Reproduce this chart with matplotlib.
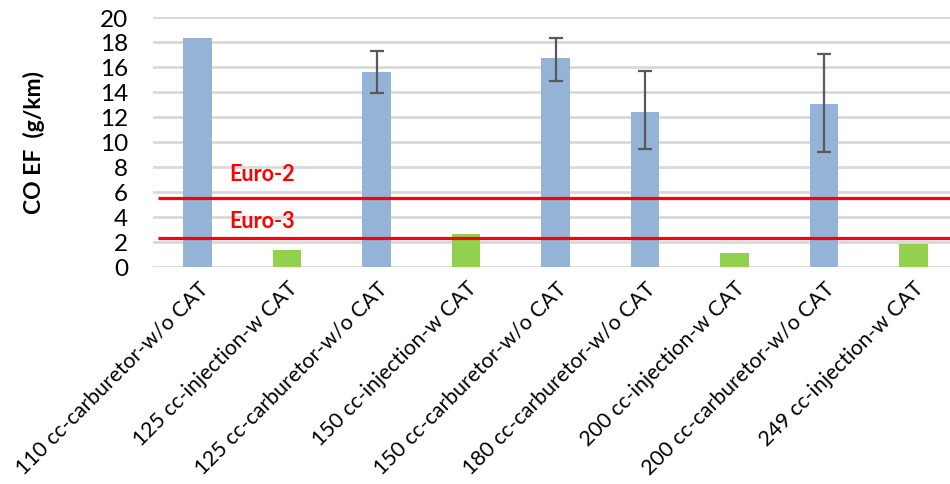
import matplotlib
matplotlib.use("Agg")
import matplotlib.pyplot as plt
import numpy as np

categories = [
    "110 cc-carburetor-w/o CAT",
    "125 cc-injection-w CAT",
    "125 cc-carburetor-w/o CAT",
    "150 cc-injection-w CAT",
    "150 cc-carburetor-w/o CAT",
    "180 cc-carburetor-w/o CAT",
    "200 cc-injection-w CAT",
    "200 cc-carburetor-w/o CAT",
    "249 cc-injection-w CAT",
]
co_ef = [18.3, 1.3, 15.6, 2.6, 16.7, 12.4, 1.1, 13.0, 1.8]
err_low = [None, None, 13.9, None, 14.9, 9.4, None, 9.2, None]
err_high = [None, None, 17.3, None, 18.3, 15.7, None, 17.0, None]
has_cat = [False, True, False, True, False, False, True, False, True]
euro_names = ["Euro-2", "Euro-3"]
euro_limits = [5.5, 2.3]
y_ticks = [0, 2, 4, 6, 8, 10, 12, 14, 16, 18, 20]

plt.rcParams['font.family'] = ['Lato', 'DejaVu Sans']

W, H = 950, 485
fig = plt.figure(figsize=(W / 100, H / 100), dpi=100)
ax = fig.add_axes([153 / W, 1 - 267.5 / H, (950 - 153) / W, (267.5 - 18) / H])

x = np.arange(len(categories))
colors = ["#92D050" if c else "#95B3D7" for c in has_cat]
ax.bar(x, co_ef, width=0.32, color=colors, zorder=2)

for i in range(len(categories)):
    if err_low[i] is not None:
        lo = co_ef[i] - err_low[i]
        hi = err_high[i] - co_ef[i]
        ax.errorbar(x[i], co_ef[i], yerr=[[lo], [hi]], fmt='none',
                    ecolor="#595959", elinewidth=1.6, capsize=5, capthick=1.6, zorder=3)

label_offsets = {"Euro-2": 1.95, "Euro-3": 1.4}
for name, val in zip(euro_names, euro_limits):
    ax.plot([-0.44, 8.41], [val, val], color="#FF0000", lw=2.3, zorder=4, solid_capstyle='butt')
    ax.text(0.35, val + label_offsets[name], name, color="#FF0000",
            fontsize=15.5, fontweight='bold', va='center', ha='left', zorder=5)

ax.set_xlim(-0.5, 8.41)
ax.set_ylim(0, 20)
ax.set_yticks(y_ticks)
ax.set_yticklabels([str(t) for t in y_ticks], fontsize=17.5)
ax.yaxis.grid(True, color="#D9D9D9", lw=2, zorder=0)
ax.set_axisbelow(True)
for s in ax.spines.values():
    s.set_visible(False)
ax.tick_params(axis='both', length=0)
ax.tick_params(axis='y', pad=18)
ax.set_xticks(x)
ax.set_xticklabels(categories, rotation=45, ha='right', va='top',
                   rotation_mode='anchor', fontsize=15.3)
ax.tick_params(axis='x', pad=8)
ax.set_ylabel("CO EF  (g/km)", fontsize=16.5, fontweight='bold')
ax.yaxis.set_label_coords(-0.1355, 0.5)

fig.savefig("out.png", dpi=100)
